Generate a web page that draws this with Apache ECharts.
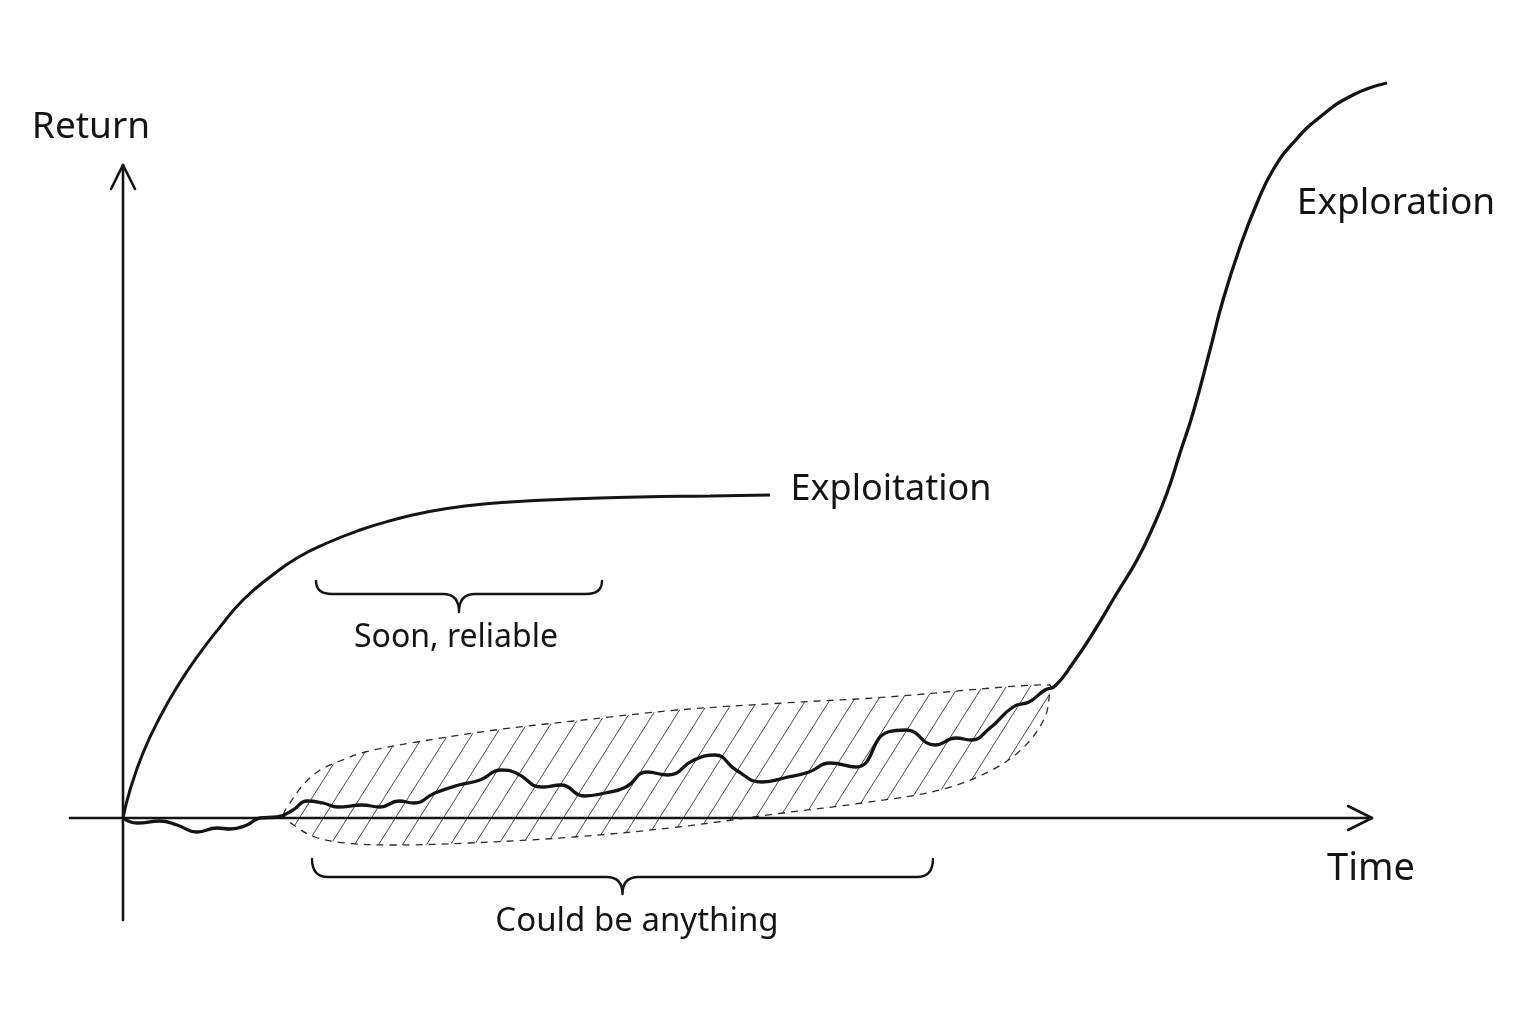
<!DOCTYPE html>
<html>
<head>
<meta charset="utf-8">
<script src="https://cdn.jsdelivr.net/npm/echarts@6/dist/echarts.min.js"></script>
<style>
  html, body { margin: 0; padding: 0; background: #ffffff; }
  #chart { width: 1536px; height: 1024px; }
</style>
</head>
<body>
<div id="chart"></div>
<script>
// ---------------- data (time, return) in abstract units ----------------
const exploitTime   = [0, 1.4, 4, 7.4, 10.8, 14.8, 19.4, 24, 29.4, 34.8, 40.8, 47.4, 54, 60.8, 68.4, 77.4, 89.4, 103.4, 117.4, 129.4];
const exploitReturn = [0, 5.6, 13, 20.2, 26.2, 32.2, 38.2, 43.6, 48.2, 52, 55, 57.6, 59.6, 61.2, 62.4, 63.2, 63.8, 64.2, 64.4, 64.6];

const exploreTime = [0, 2.8, 7.4, 10.8, 14.8, 18.8, 21.4, 24.8, 27.4, 30.8, 34, 36.8,
  40, 43, 47.8, 51.4, 55.2, 58.2, 62.4, 67.2, 71.4, 75.6, 78.6, 83.8, 87.6, 92.2, 96.4,
  100.6, 104.8, 109, 114.2, 118.4, 122.6, 127.8, 133, 137.2, 141.4, 146.6, 153, 156.6,
  162.4, 166.6, 169.6, 173.4, 178, 181.2, 184.4, 186.4,
  190, 194, 198.8, 202.8, 206, 208.8, 211.4, 214, 217.4, 220, 223.4, 226.8, 230, 234, 239.4, 246, 252.8];
const exploreReturn = [0, -1.0, -0.6, -1.4, -2.8, -2.0, -2.2, -1.4, 0, 0.2, 1.6, 3.4,
  3, 2.2, 2.6, 2.2, 3.4, 3.0, 5.0, 6.6, 7.6, 9.6, 9.0, 6.2, 6.6, 4.4, 5.0,
  6.2, 9.2, 8.6, 11.6, 12.6, 9.6, 7.2, 8.2, 9.2, 11, 10.2, 17.2, 17.6,
  14.6, 16, 15.6, 18, 22.2, 23.2, 25.6, 26.4,
  31, 37, 45, 51.6, 58.2, 65, 73, 81, 93.6, 103.6, 114.2, 123, 129.6, 135, 140.2, 144.6, 147];

// range of outcomes for exploration (closed outline: upper edge, then lower edge back)
const spreadTime   = [32.2, 33.4, 36, 39.4, 43.4, 48.4, 58.8, 74.4, 90.2, 111, 132, 153, 173.8, 185.4,
                      185.4, 184.4, 180.2, 173.8, 163.4, 147.8, 132, 111, 90.2, 69.2, 53.6, 44.4, 38.4, 34.4];
const spreadReturn = [0.6, 3, 6.6, 9.6, 11.4, 13.2, 15.2, 17.6, 19.4, 21.6, 23, 24.2, 26, 26.6,
                      25.6, 20.2, 14.2, 9.6, 5.6, 3, 1, -1.8, -3.8, -5, -5.4, -5, -3.8, -1.6];

// axes extents
const axisTimeRange   = [-10.6, 249.8];
const axisReturnRange = [-20.4, 130.6];

// braces: [start time, end time, return at ends, return of bar, return at tip]
const braceSoon     = [38.6, 95.8, 47.4, 44.8, 41.2];
const braceAnything = [37.8, 162, -8.2, -11.8, -15.2];

// text labels and their anchor (time, return)
const labelTexts  = ['Return', 'Time', 'Exploitation', 'Exploration', 'Soon, reliable', 'Could be anything'];
const labelTime   = [-6.4, 249.6, 153.6, 254.6, 66.6, 102.8];
const labelReturn = [138.2, -10.2, 65.6, 123, 36, -20.8];
const labelSize   = [37, 38, 36, 37, 32, 33];

// ---------------- chart ----------------
const INK = '#141414';

function hatchTile() {
  const W = 24, H = 38;
  const c = document.createElement('canvas');
  c.width = W; c.height = H;
  const g = c.getContext('2d');
  g.strokeStyle = '#4a4a4a';
  g.lineWidth = 1;
  [-W, 0, W].forEach(function (o) {
    g.beginPath(); g.moveTo(o, H); g.lineTo(o + W, 0); g.stroke();
  });
  return c;
}
const hatch = hatchTile();

const chart = echarts.init(document.getElementById('chart'), null, { renderer: 'canvas' });

function arrowItem(params, api) {
  const isX = params.dataIndex === 0;
  const p0 = isX ? api.coord([axisTimeRange[0], 0]) : api.coord([0, axisReturnRange[0]]);
  const p1 = isX ? api.coord([axisTimeRange[1], 0]) : api.coord([0, axisReturnRange[1]]);
  const dx = p1[0] - p0[0], dy = p1[1] - p0[1];
  const len = Math.sqrt(dx * dx + dy * dy);
  const ux = dx / len, uy = dy / len, nx = -uy, ny = ux;
  const L = 24, Wd = 12;
  return {
    type: 'group',
    children: [
      { type: 'line', shape: { x1: p0[0], y1: p0[1], x2: p1[0], y2: p1[1] },
        style: { stroke: INK, lineWidth: 2.6, lineCap: 'round' } },
      { type: 'polyline', shape: { points: [
          [p1[0] - ux * L + nx * Wd, p1[1] - uy * L + ny * Wd],
          [p1[0], p1[1]],
          [p1[0] - ux * L - nx * Wd, p1[1] - uy * L - ny * Wd]] },
        style: { stroke: INK, lineWidth: 2.6, lineCap: 'round', lineJoin: 'round', fill: null } }
    ]
  };
}

function braceItem(params, api) {
  const b = params.dataIndex === 0 ? braceSoon : braceAnything;
  const a = api.coord([b[0], b[2]]);
  const e = api.coord([b[1], b[2]]);
  const mid = api.coord([(b[0] + b[1]) / 2, b[3]]);
  const tip = api.coord([(b[0] + b[1]) / 2, b[4]]);
  const y = mid[1], c = 16, cx = tip[0];
  const d = 'M' + a[0] + ',' + a[1] +
    ' Q' + a[0] + ',' + y + ' ' + (a[0] + c) + ',' + y +
    ' L' + (cx - c) + ',' + y +
    ' Q' + cx + ',' + y + ' ' + cx + ',' + tip[1] +
    ' Q' + cx + ',' + y + ' ' + (cx + c) + ',' + y +
    ' L' + (e[0] - c) + ',' + y +
    ' Q' + e[0] + ',' + y + ' ' + e[0] + ',' + e[1];
  return { type: 'path', shape: { pathData: d },
    style: { stroke: INK, lineWidth: 2.4, fill: null, lineCap: 'round', lineJoin: 'round' } };
}

function spreadItem(params, api) {
  const pts = spreadTime.map(function (t, i) { return api.coord([t, spreadReturn[i]]); });
  return { type: 'polygon', shape: { points: pts, smooth: 0.35 },
    style: { fill: { image: hatch, repeat: 'repeat' }, stroke: '#2a2a2a', lineWidth: 1.3, lineDash: [7, 6] } };
}

function labelItem(params, api) {
  const i = params.dataIndex;
  const p = api.coord([labelTime[i], labelReturn[i]]);
  return { type: 'text', x: p[0], y: p[1],
    style: { text: labelTexts[i], fill: INK, font: labelSize[i] + 'px "Noto Sans"', align: 'center', verticalAlign: 'middle' } };
}

chart.setOption({
  animation: false,
  backgroundColor: '#ffffff',
  grid: { left: 23, top: 18, width: 1500, height: 950 },
  xAxis: { type: 'value', min: -20, max: 280, show: false },
  yAxis: { type: 'value', min: -30, max: 160, show: false },
  series: [
    { type: 'custom', name: 'spread', renderItem: spreadItem, data: [[0, 0]], clip: false, z: 1, silent: true },
    { type: 'custom', name: 'axes', renderItem: arrowItem, data: [[0, 0], [0, 0]], clip: false, z: 2, silent: true },
    { type: 'line', name: 'Exploitation', data: exploitTime.map(function (t, i) { return [t, exploitReturn[i]]; }),
      smooth: 0.5, symbol: 'none', lineStyle: { color: INK, width: 3 }, z: 4 },
    { type: 'line', name: 'Exploration', data: exploreTime.map(function (t, i) { return [t, exploreReturn[i]]; }),
      smooth: 0.5, symbol: 'none', lineStyle: { color: INK, width: 3.3 }, z: 5 },
    { type: 'custom', name: 'braces', renderItem: braceItem, data: [[0, 0], [0, 0]], clip: false, z: 3, silent: true },
    { type: 'custom', name: 'labels', renderItem: labelItem, data: labelTexts.map(function () { return [0, 0]; }), clip: false, z: 6, silent: true }
  ]
});
</script>
</body>
</html>
